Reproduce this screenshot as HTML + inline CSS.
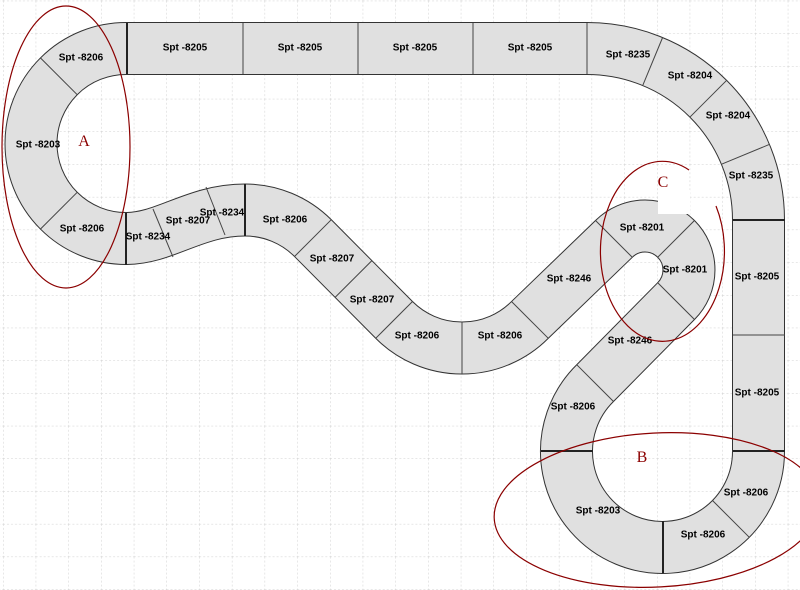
<!DOCTYPE html>
<html><head><meta charset="utf-8"><style>
html,body{margin:0;padding:0;background:#fff;}
svg{display:block;}
.l{font-family:"Liberation Sans",sans-serif;font-size:10px;font-weight:bold;fill:#000;text-anchor:middle;dominant-baseline:central;}
.d{stroke:#444;stroke-width:1;}
.t{stroke:#222;stroke-width:2;}
.e{fill:none;stroke:#8b0000;stroke-width:1.2;}
.m{font-family:"Liberation Serif",serif;font-size:16px;fill:#8b0000;text-anchor:middle;}
</style></head><body>
<svg width="800" height="590" viewBox="0 0 800 590" xmlns="http://www.w3.org/2000/svg">
<defs>
<pattern id="g" patternUnits="userSpaceOnUse" x="3" y="0.7" width="32.7" height="32.7">
<line x1="0" y1="0" x2="32.7" y2="0" stroke="#cfcfcf" stroke-width="1" stroke-dasharray="2,2"/>
<line x1="0" y1="0" x2="0" y2="32.7" stroke="#cfcfcf" stroke-width="1" stroke-dasharray="2,2"/>
</pattern>
</defs>
<rect width="800" height="590" fill="url(#g)"/>
<path id="trk" d="M126,48.5 L587,48.5 A171.5,171.5 0 0 1 758.5,220 L758.5,451 A96,96 0 1 1 595.1,383.1 L676.1,301.1 A44,44 0 0 0 676.1,238.9 A44,44 0 0 0 613.9,238.9 L529.9,319.9 A96,96 0 0 1 394.1,319.9 L312.9,238.1 A96,96 0 0 0 245,210 C195,210 165,238.5 126,238.5 A95,95 0 0 1 126,48.5 Z" fill="none" stroke="#333" stroke-width="53" stroke-linejoin="round"/>
<path d="M126,48.5 L587,48.5 A171.5,171.5 0 0 1 758.5,220 L758.5,451 A96,96 0 1 1 595.1,383.1 L676.1,301.1 A44,44 0 0 0 676.1,238.9 A44,44 0 0 0 613.9,238.9 L529.9,319.9 A96,96 0 0 1 394.1,319.9 L312.9,238.1 A96,96 0 0 0 245,210 C195,210 165,238.5 126,238.5 A95,95 0 0 1 126,48.5 Z" fill="none" stroke="#e0e0e0" stroke-width="51" stroke-linejoin="round"/>
<g>
<line class="t" x1="127" y1="23" x2="127" y2="74"/>
<line class="d" x1="243" y1="23" x2="243" y2="74"/>
<line class="d" x1="358" y1="23" x2="358" y2="74"/>
<line class="d" x1="473" y1="23" x2="473" y2="74"/>
<line class="d" x1="587" y1="23" x2="587" y2="74"/>
<line class="d" x1="642.9" y1="85.1" x2="662.4" y2="38"/>
<line class="d" x1="690.2" y1="116.8" x2="726.3" y2="80.7"/>
<line class="d" x1="721.9" y1="164.1" x2="769" y2="144.6"/>
<line class="t" x1="733" y1="220" x2="785" y2="220"/>
<line class="d" x1="733" y1="335" x2="785" y2="335"/>
<line class="t" x1="733" y1="451" x2="785" y2="451"/>
<line class="d" x1="712.5" y1="500.5" x2="749.3" y2="537.3"/>
<line class="t" x1="663" y1="521" x2="663" y2="573"/>
<line class="t" x1="593" y1="451" x2="541" y2="451"/>
<line class="d" x1="613.5" y1="401.5" x2="576.7" y2="364.7"/>
<line class="d" x1="658.1" y1="283.1" x2="694.1" y2="319.1"/>
<line class="d" x1="658.1" y1="256.9" x2="694.1" y2="220.9"/>
<line class="d" x1="631.9" y1="256.9" x2="595.9" y2="220.9"/>
<line class="d" x1="511.5" y1="301.5" x2="548.3" y2="338.3"/>
<line class="d" x1="462" y1="322" x2="462" y2="374"/>
<line class="d" x1="412.5" y1="301.5" x2="375.7" y2="338.3"/>
<line class="d" x1="371.9" y1="260.6" x2="335.1" y2="297.4"/>
<line class="d" x1="294.5" y1="256.5" x2="331.3" y2="219.7"/>
<line class="t" x1="245" y1="236" x2="245" y2="184"/>
<line class="d" x1="206" y1="187" x2="225" y2="235"/>
<line class="d" x1="153" y1="209" x2="173" y2="257"/>
<line class="t" x1="126" y1="213" x2="126" y2="265"/>
<line class="d" x1="77.2" y1="192.3" x2="40.4" y2="229.1"/>
<line class="d" x1="77.2" y1="94.7" x2="40.4" y2="57.9"/>
</g>
<g>
<text class="l" x="81" y="58">Spt -8206</text>
<text class="l" x="185" y="48">Spt -8205</text>
<text class="l" x="300" y="48">Spt -8205</text>
<text class="l" x="415" y="48">Spt -8205</text>
<text class="l" x="530" y="48">Spt -8205</text>
<text class="l" x="628" y="55">Spt -8235</text>
<text class="l" x="690" y="76">Spt -8204</text>
<text class="l" x="728" y="116">Spt -8204</text>
<text class="l" x="751" y="176">Spt -8235</text>
<text class="l" x="757" y="277">Spt -8205</text>
<text class="l" x="757" y="393">Spt -8205</text>
<text class="l" x="38" y="145">Spt -8203</text>
<text class="l" x="82" y="229">Spt -8206</text>
<text class="l" x="148" y="237">Spt -8234</text>
<text class="l" x="188" y="221">Spt -8207</text>
<text class="l" x="222" y="213">Spt -8234</text>
<text class="l" x="285" y="220">Spt -8206</text>
<text class="l" x="332" y="259">Spt -8207</text>
<text class="l" x="372" y="300">Spt -8207</text>
<text class="l" x="417" y="336">Spt -8206</text>
<text class="l" x="500" y="336">Spt -8206</text>
<text class="l" x="569" y="279">Spt -8246</text>
<text class="l" x="642" y="228">Spt -8201</text>
<text class="l" x="685" y="270">Spt -8201</text>
<text class="l" x="630" y="341">Spt -8246</text>
<text class="l" x="573" y="407">Spt -8206</text>
<text class="l" x="598" y="511">Spt -8203</text>
<text class="l" x="703" y="535">Spt -8206</text>
<text class="l" x="746" y="493">Spt -8206</text>
</g>
<rect x="658" y="190" width="32" height="24" fill="#fff"/>
<ellipse class="e" cx="66" cy="147" rx="64" ry="141"/>
<ellipse class="e" cx="657" cy="510" rx="163" ry="77" transform="rotate(-3 657 510)"/>
<path class="e" d="M689,170 A62,90 0 1 0 716,206"/>
<text class="m" x="84" y="146">A</text>
<text class="m" x="642" y="462">B</text>
<text class="m" x="663" y="187">C</text>
</svg>
</body></html>
